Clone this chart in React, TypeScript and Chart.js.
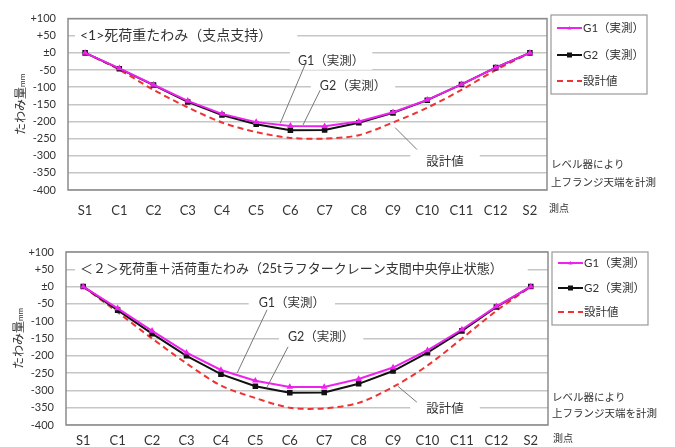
import React, { useEffect, useRef } from "react";
import { Chart, registerables } from "chart.js";

Chart.register(...registerables);

// ---------- data ----------
const categories = ["S1", "C1", "C2", "C3", "C4", "C5", "C6", "C7", "C8", "C9", "C10", "C11", "C12", "S2"];
const yMin = -400;
const yMax = 100;
const yStep = 50;

const seriesNames = ["G1（実測）", "G2（実測）", "設計値"];

const deadG1 = [0, -45, -93, -140, -178, -202, -213, -214, -200, -173, -137, -92, -43, 0];
const deadG2 = [0, -46, -94, -143, -181, -208, -226, -225, -204, -175, -138, -92, -43, 0];
const deadDesign = [0, -49, -108, -159, -203, -231, -248, -250, -240, -203, -160, -108, -50, 0];

const liveG1 = [0, -63, -128, -191, -241, -272, -290, -290, -267, -234, -184, -124, -57, 0];
const liveG2 = [0, -68, -136, -200, -253, -288, -307, -306, -281, -244, -191, -128, -59, 0];
const liveDesign = [0, -74, -150, -222, -286, -322, -350, -352, -336, -290, -228, -150, -70, 0];

const title1 = "<1>死荷重たわみ（支点支持）";
const title2 = "＜２＞死荷重＋活荷重たわみ（25tラフタークレーン支間中央停止状態）";
const yTitle = "たわみ量";
const yUnit = "mm";
const xUnit = "測点";
const noteLines = ["レベル器により", "上フランジ天端を計測"];

// ---------- styles ----------
const MAGENTA = "#ee22ee";
const BLACK = "#111111";
const RED = "#ee3333";
const GRID = "#c6c6c6";
const BORDER = "#8c8c8c";
const TEXT = "#333333";
const LAT = "Lato, 'Noto Sans CJK JP', sans-serif";

type Note = { text: string; i: number; v: number; from: [number, number]; to: [number, number]; pad: number };

type Cfg = {
  g1: number[];
  g2: number[];
  design: number[];
  plotLeft: number;
  plotRight: number;
  plotTop: number;
  axisH: number;
  tickPad: number;
  title: string;
  titleFont: string;
  titleX: number;
  labels: Note[];
  legendBox: [number, number, number, number];
  legendRows: number[];
  noteY: number[];
  xUnitPos: [number, number];
  yTitleX: number;
};

function fmtTick(v: number) {
  if (v > 0) return "+" + v;
  if (v === 0) return "±0";
  return String(v);
}

function makeChart(canvas: HTMLCanvasElement, cfg: Cfg) {
  const decor = {
    id: "decor",
    beforeDatasetsDraw(chart: any) {
      const ctx = chart.ctx as CanvasRenderingContext2D;
      const xs = chart.scales.x;
      const ys = chart.scales.y;
      ctx.save();
      // title
      ctx.font = cfg.titleFont;
      ctx.textBaseline = "middle";
      ctx.textAlign = "left";
      const ty = ys.getPixelForValue(50);
      const tw = ctx.measureText(cfg.title).width;
      ctx.fillStyle = "#ffffff";
      ctx.fillRect(cfg.titleX - 5, ty - 9, tw + 30, 18);
      ctx.fillStyle = TEXT;
      ctx.fillText(cfg.title, cfg.titleX, ty);
      // labels
      ctx.font = "12.5px " + LAT;
      ctx.textAlign = "center";
      for (const n of cfg.labels) {
        const x = xs.getPixelForValue(n.i);
        const y = ys.getPixelForValue(n.v);
        const w = ctx.measureText(n.text).width;
        ctx.fillStyle = "#ffffff";
        ctx.fillRect(x - w / 2 - n.pad, y - 9, w + n.pad * 2, 18);
        ctx.fillStyle = TEXT;
        ctx.fillText(n.text, x, y);
        ctx.strokeStyle = "#777777";
        ctx.lineWidth = 1;
        ctx.beginPath();
        ctx.moveTo(xs.getPixelForValue(n.from[0]), ys.getPixelForValue(n.from[1]));
        ctx.lineTo(xs.getPixelForValue(n.to[0]), ys.getPixelForValue(n.to[1]));
        ctx.stroke();
      }
      ctx.restore();
    },
    afterDraw(chart: any) {
      const ctx = chart.ctx as CanvasRenderingContext2D;
      const a = chart.chartArea;
      ctx.save();
      // plot border
      ctx.strokeStyle = BORDER;
      ctx.lineWidth = 1.5;
      ctx.strokeRect(a.left, a.top, a.right - a.left, a.bottom - a.top);
      // legend
      const [lx, ly, lw, lh] = cfg.legendBox;
      ctx.fillStyle = "#ffffff";
      ctx.fillRect(lx, ly, lw, lh);
      ctx.strokeStyle = "#999999";
      ctx.lineWidth = 1.2;
      ctx.strokeRect(lx, ly, lw, lh);
      chart.data.datasets.forEach((ds: any, k: number) => {
        const ry = cfg.legendRows[k];
        const x0 = lx + 6;
        const x1 = lx + 31;
        ctx.strokeStyle = ds.borderColor;
        ctx.lineWidth = 2;
        ctx.setLineDash(ds.borderDash || []);
        ctx.beginPath();
        ctx.moveTo(x0, ry);
        ctx.lineTo(x1, ry);
        ctx.stroke();
        ctx.setLineDash([]);
        const mx = (x0 + x1) / 2;
        ctx.fillStyle = ds.borderColor;
        if (ds.pointStyle === "triangle") {
          ctx.beginPath();
          ctx.moveTo(mx, ry - 2);
          ctx.lineTo(mx + 2, ry + 1.5);
          ctx.lineTo(mx - 2, ry + 1.5);
          ctx.closePath();
          ctx.fill();
        } else if (ds.pointStyle === "rect") {
          ctx.fillRect(mx - 2.5, ry - 2.5, 5, 5);
        }
        ctx.fillStyle = TEXT;
        ctx.font = "11.5px " + LAT;
        ctx.textAlign = "left";
        ctx.textBaseline = "middle";
        ctx.fillText(ds.label, x1 + 1, ry);
      });
      // notes on the right
      ctx.fillStyle = TEXT;
      ctx.font = "10.5px 'Noto Sans CJK JP', sans-serif";
      ctx.textAlign = "left";
      ctx.textBaseline = "middle";
      noteLines.forEach((t, k) => ctx.fillText(t, a.right + 4, cfg.noteY[k]));
      ctx.font = "10px 'Noto Sans CJK JP', sans-serif";
      ctx.fillText(xUnit, cfg.xUnitPos[0], cfg.xUnitPos[1]);
      // y title
      ctx.translate(cfg.yTitleX, (a.top + a.bottom) / 2);
      ctx.rotate(-Math.PI / 2);
      ctx.font = "12px 'Noto Sans CJK JP', sans-serif";
      const w1 = ctx.measureText(yTitle).width;
      ctx.font = "8px Lato, sans-serif";
      const w2 = ctx.measureText(yUnit).width;
      const sx = -(w1 + w2) / 2;
      ctx.font = "12px 'Noto Sans CJK JP', sans-serif";
      ctx.fillText(yTitle, sx, 0);
      ctx.font = "8px Lato, sans-serif";
      ctx.fillText(yUnit, sx + w1, 2);
      ctx.restore();
    },
  };

  return new Chart(canvas, {
    type: "line",
    data: {
      labels: categories,
      datasets: [
        {
          label: seriesNames[0],
          data: cfg.g1,
          borderColor: MAGENTA,
          backgroundColor: MAGENTA,
          borderWidth: 2,
          pointStyle: "triangle",
          pointRadius: 1.8,
          tension: 0,
        },
        {
          label: seriesNames[1],
          data: cfg.g2,
          borderColor: BLACK,
          backgroundColor: BLACK,
          borderWidth: 2,
          pointStyle: "rect",
          pointRadius: 2.5,
          tension: 0,
        },
        {
          label: seriesNames[2],
          data: cfg.design,
          borderColor: RED,
          backgroundColor: RED,
          borderWidth: 2,
          borderDash: [6, 4],
          pointRadius: 0,
          tension: 0.3,
        },
      ],
    },
    options: {
      responsive: false,
      animation: false,
      devicePixelRatio: 1,
      layout: { padding: { left: 0, right: 675 - cfg.plotRight, top: cfg.plotTop, bottom: 0 } },
      plugins: { legend: { display: false }, tooltip: { enabled: false }, title: { display: false } },
      scales: {
        x: {
          type: "category",
          offset: true,
          grid: { display: false, drawTicks: false },
          border: { display: false },
          ticks: { color: TEXT, font: { family: LAT, size: 13 }, padding: cfg.tickPad, maxRotation: 0, autoSkip: false },
          afterFit: (s: any) => {
            s.height = cfg.axisH;
          },
        },
        y: {
          min: yMin,
          max: yMax,
          grid: { color: GRID, lineWidth: 1.5, drawTicks: false },
          border: { display: false },
          ticks: {
            stepSize: yStep,
            color: TEXT,
            font: { family: LAT, size: 11 },
            padding: 12,
            callback: (v: any) => fmtTick(Number(v)),
          },
          afterFit: (s: any) => {
            s.width = cfg.plotLeft;
          },
        },
      },
    },
    plugins: [decor],
  } as any);
}

const cfg1: Cfg = {
  g1: deadG1,
  g2: deadG2,
  design: deadDesign,
  plotLeft: 68,
  plotRight: 547,
  plotTop: 15,
  axisH: 32,
  tickPad: 13,
  title: title1,
  titleFont: "14px " + LAT,
  titleX: 80,
  labels: [
    { text: "G1（実測）", i: 7.19, v: -23, from: [6.43, -34], to: [5.7, -206], pad: 8 },
    { text: "G2（実測）", i: 7.83, v: -97, from: [6.87, -109], to: [6.37, -210], pad: 9 },
    { text: "設計値", i: 10.52, v: -317, from: [9.7, -282], to: [9.06, -218], pad: 16 },
  ],
  legendBox: [551, 15, 96, 79],
  legendRows: [28, 55, 81],
  noteY: [164, 182],
  xUnitPos: [549, 208],
  yTitleX: 20,
};

const cfg2: Cfg = {
  g1: liveG1,
  g2: liveG2,
  design: liveDesign,
  plotLeft: 66,
  plotRight: 548,
  plotTop: 27,
  axisH: 22,
  tickPad: 8,
  title: title2,
  titleFont: "13px " + LAT,
  titleX: 80,
  labels: [
    { text: "G1（実測）", i: 6.06, v: -47, from: [5.34, -67], to: [4.47, -250], pad: 10 },
    { text: "G2（実測）", i: 6.91, v: -147, from: [5.95, -174], to: [5.34, -290], pad: 9 },
    { text: "設計値", i: 10.51, v: -353, from: [9.69, -334], to: [9.14, -288], pad: 16 },
  ],
  legendBox: [552, 27, 96, 73],
  legendRows: [38, 63, 87],
  noteY: [172, 188],
  xUnitPos: [553, 213],
  yTitleX: 18,
};

export default function App() {
  const c1 = useRef<HTMLCanvasElement | null>(null);
  const c2 = useRef<HTMLCanvasElement | null>(null);
  useEffect(() => {
    const a = makeChart(c1.current!, cfg1);
    const b = makeChart(c2.current!, cfg2);
    return () => {
      a.destroy();
      b.destroy();
    };
  }, []);
  return (
    <div style={{ position: "fixed", left: 0, top: 0, width: 675, height: 447, background: "#fff", overflow: "hidden" }}>
      <canvas ref={c1} width={675} height={222} style={{ position: "absolute", left: 0, top: 0, width: 675, height: 222 }} />
      <canvas ref={c2} width={675} height={222} style={{ position: "absolute", left: 0, top: 225, width: 675, height: 222 }} />
    </div>
  );
}
